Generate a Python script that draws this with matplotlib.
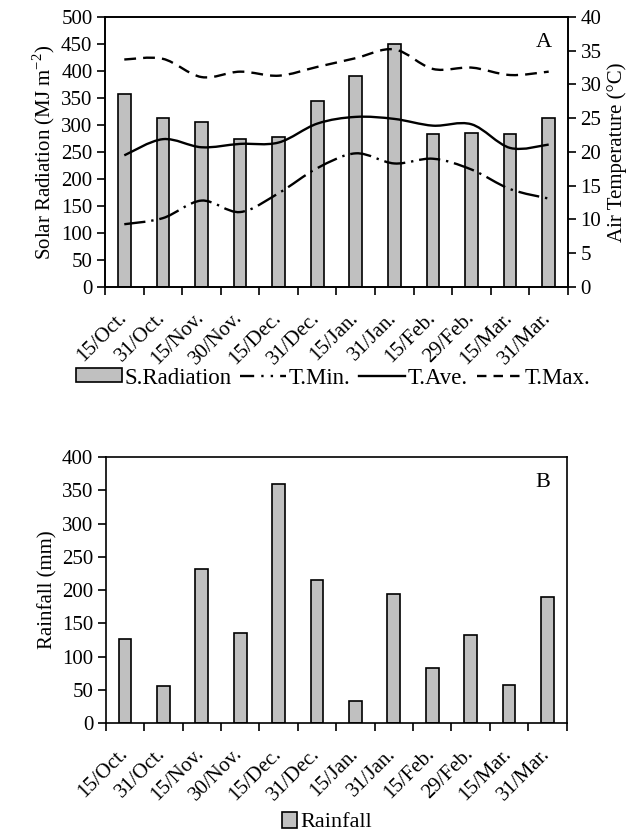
import matplotlib
matplotlib.use("Agg")
import matplotlib.pyplot as plt
import matplotlib.transforms as mtransforms
import numpy as np
from matplotlib.path import Path
from matplotlib.patches import PathPatch
from matplotlib.lines import Line2D
from matplotlib.patches import Patch

plt.rcParams['font.family'] = ['Liberation Serif', 'DejaVu Serif']
plt.rcParams['mathtext.fontset'] = 'custom'
plt.rcParams['mathtext.rm'] = 'Liberation Serif'

dates = ["15/Oct.", "31/Oct.", "15/Nov.", "30/Nov.", "15/Dec.", "31/Dec.",
         "15/Jan.", "31/Jan.", "15/Feb.", "29/Feb.", "15/Mar.", "31/Mar."]
solar = [357, 313, 305, 274, 278, 344, 391, 450, 283, 286, 283, 313]
t_min = [9.3, 10.2, 12.8, 11.1, 13.9, 17.6, 19.8, 18.3, 19.0, 17.4, 14.5, 13.1]
t_ave = [19.5, 21.9, 20.7, 21.2, 21.4, 24.2, 25.2, 24.9, 23.9, 24.1, 20.6, 21.1]
t_max = [33.7, 33.8, 31.1, 31.9, 31.3, 32.6, 33.9, 35.2, 32.3, 32.5, 31.4, 31.9]
rain = [126, 55, 232, 135, 359, 215, 33, 194, 82, 133, 57, 189]

FS = 15
LFS = 16.5
LW = 1.7
x = np.arange(len(dates))


def smooth_path(xs, ys):
    pts = np.column_stack([xs, ys]).astype(float)
    n = len(pts)
    verts = [pts[0]]
    codes = [Path.MOVETO]
    for i in range(n - 1):
        p0 = pts[i - 1] if i > 0 else pts[i]
        p1 = pts[i]
        p2 = pts[i + 1]
        p3 = pts[i + 2] if i + 2 < n else pts[i + 1]
        c1 = p1 + (p2 - p0) / 6.0
        c2 = p2 - (p3 - p1) / 6.0
        verts += [c1, c2, p2]
        codes += [Path.CURVE4] * 3
    return Path(verts, codes)


def style_cat_axis(ax, fig):
    ax.set_xlim(-0.5, len(dates) - 0.5)
    ax.set_xticks(x)
    ax.set_xticklabels(dates, rotation=45, ha='right', va='top',
                       rotation_mode='anchor', fontsize=FS)
    ax.tick_params(axis='x', which='major', length=0, pad=9)
    ax.set_xticks(np.arange(-0.5, len(dates), 1.0), minor=True)
    ax.tick_params(axis='x', which='minor', length=6, width=1.2, direction='out')
    ax.tick_params(axis='y', length=6, width=1.2, direction='out', labelsize=FS, pad=3)
    offset = mtransforms.ScaledTranslation(-7 / 100, -9 / 100, fig.dpi_scale_trans)
    for lab in ax.get_xticklabels():
        lab.set_transform(lab.get_transform() + offset)
    for s in ax.spines.values():
        s.set_linewidth(1.2)


fig = plt.figure(figsize=(6.41, 8.36), dpi=100)

# Panel A
ax1 = fig.add_axes([0.1638, 0.6567, 0.7223, 0.323])
ax1.bar(x, solar, width=0.33, color='#c0c0c0', edgecolor='black', linewidth=1.2, zorder=2)
style_cat_axis(ax1, fig)
ax1.set_ylim(0, 500)
ax1.set_yticks(np.arange(0, 501, 50))
ax1.set_ylabel(r'Solar Radiation (MJ m$^{-2}$)', fontsize=FS, labelpad=3)

ax2 = ax1.twinx()
ax2.set_ylim(0, 40)
ax2.set_yticks(np.arange(0, 41, 5))
ax2.tick_params(axis='y', length=6, width=1.2, direction='out', labelsize=FS, pad=3)
ax2.set_ylabel('Air Temperature (°C)', fontsize=FS, labelpad=4)
for s in ax2.spines.values():
    s.set_linewidth(1.2)

min_ls = (0, (9, 2.5, 1, 2.5))
max_ls = (0, (5, 3))
styles = {
    'T.Min.': (t_min, min_ls),
    'T.Ave.': (t_ave, '-'),
    'T.Max.': (t_max, max_ls),
}
for name, (vals, ls) in styles.items():
    p = PathPatch(smooth_path(x, vals), facecolor='none', edgecolor='black',
                  linewidth=LW, linestyle=ls, zorder=3)
    ax2.add_patch(p)

ax1.text(0.965, 0.905, 'A', transform=ax1.transAxes, fontsize=FS + 1,
         ha='right', va='center')

handles = [Patch(facecolor='#c0c0c0', edgecolor='black', linewidth=1.2),
           Line2D([], [], color='black', lw=LW, ls=(0, (6, 3, 1, 3, 1, 3))),
           Line2D([], [], color='black', lw=LW, ls='-'),
           Line2D([], [], color='black', lw=LW, ls=(0, (4, 3)))]
fig.legend(handles, ['S.Radiation', 'T.Min.', 'T.Ave.', 'T.Max.'],
           loc='center', bbox_to_anchor=(0.52, 1 - 378 / 836), ncol=4,
           frameon=False, fontsize=LFS, handlelength=2.0, handletextpad=0.1,
           columnspacing=0.4, handleheight=0.55, borderpad=0)

# Panel B
ax3 = fig.add_axes([0.165, 0.1352, 0.719, 0.318])
ax3.bar(x, rain, width=0.33, color='#c0c0c0', edgecolor='black', linewidth=1.2, zorder=2)
style_cat_axis(ax3, fig)
ax3.set_ylim(0, 400)
ax3.set_yticks(np.arange(0, 401, 50))
ax3.set_ylabel('Rainfall (mm)', fontsize=FS, labelpad=3)
ax3.text(0.965, 0.905, 'B', transform=ax3.transAxes, fontsize=FS + 1,
         ha='right', va='center')
fig.legend([Patch(facecolor='#c0c0c0', edgecolor='black', linewidth=1.2)], ['Rainfall'],
           loc='center', bbox_to_anchor=(0.51, 1 - 822 / 836), frameon=False,
           fontsize=LFS - 0.5, handlelength=0.7, handletextpad=0.15, handleheight=0.75,
           borderpad=0)

fig.savefig('out.png', dpi=100)
